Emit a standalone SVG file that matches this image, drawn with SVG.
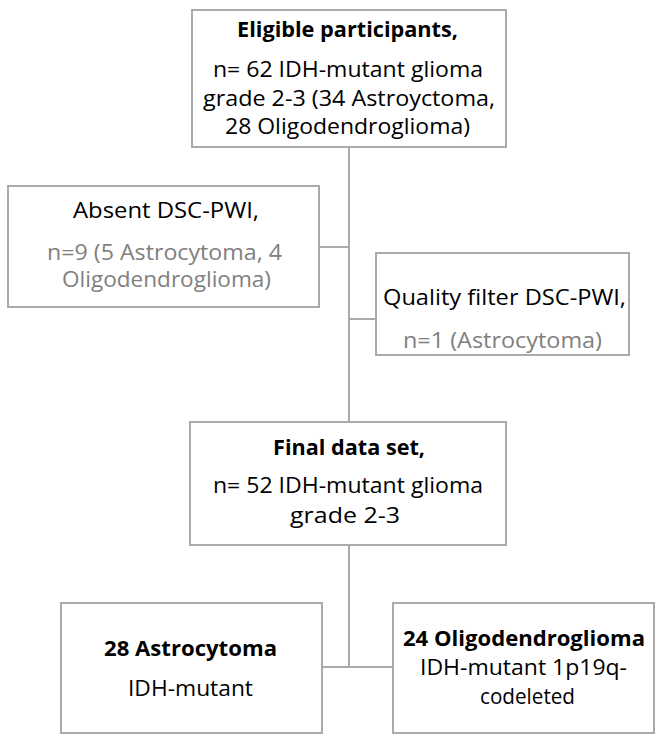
<svg xmlns="http://www.w3.org/2000/svg" width="664" height="741" viewBox="0 0 664 741">
<style>
.box{fill:#fff;stroke:#aaaaaa;stroke-width:2}
.ln{fill:none;stroke:#aaaaaa;stroke-width:2}
text{font-family:"Open Sans","Liberation Sans",sans-serif;font-size:21px;text-anchor:middle;fill:#000}
.b{font-weight:bold}
.g{fill:#808080}
</style>
<rect width="664" height="741" fill="#fff"/>
<g id="connectors">
<path class="ln" d="M349 147V422M319 247H349M349 319H376M349 545V667M322 667H393"/>
</g>
<g id="eligible">
<rect class="box" x="192" y="10" width="314" height="137"/>
<text x="347.5" y="37" class="b" textLength="221" lengthAdjust="spacingAndGlyphs">Eligible participants,</text>
<text x="348" y="77" textLength="270" lengthAdjust="spacingAndGlyphs">n= 62 IDH-mutant glioma</text>
<text x="349" y="106" textLength="292" lengthAdjust="spacingAndGlyphs">grade 2-3 (34 Astroyctoma,</text>
<text x="347.5" y="134" textLength="245" lengthAdjust="spacingAndGlyphs">28 Oligodendroglioma)</text>
</g>
<g id="absent">
<rect class="box" x="8" y="186" width="311" height="121"/>
<text x="166" y="218" textLength="186" lengthAdjust="spacingAndGlyphs">Absent DSC-PWI,</text>
<text x="164.5" y="260" class="g" textLength="235" lengthAdjust="spacingAndGlyphs">n=9 (5 Astrocytoma, 4</text>
<text x="166.5" y="287" class="g" textLength="209" lengthAdjust="spacingAndGlyphs">Oligodendroglioma)</text>
</g>
<g id="quality">
<rect class="box" x="376" y="253" width="253" height="102"/>
<text x="504.5" y="305" textLength="243" lengthAdjust="spacingAndGlyphs">Quality filter DSC-PWI,</text>
<text x="502.5" y="348" class="g" textLength="199" lengthAdjust="spacingAndGlyphs">n=1 (Astrocytoma)</text>
</g>
<g id="final">
<rect class="box" x="190" y="422" width="316" height="123"/>
<text x="349" y="455" class="b" textLength="152" lengthAdjust="spacingAndGlyphs">Final data set,</text>
<text x="348" y="493" textLength="270" lengthAdjust="spacingAndGlyphs">n= 52 IDH-mutant glioma</text>
<text x="345" y="523" textLength="110" lengthAdjust="spacingAndGlyphs">grade 2-3</text>
</g>
<g id="astro">
<rect class="box" x="61" y="603" width="261" height="130"/>
<text x="190.5" y="656" class="b" textLength="173" lengthAdjust="spacingAndGlyphs">28 Astrocytoma</text>
<text x="190.5" y="696" textLength="125" lengthAdjust="spacingAndGlyphs">IDH-mutant</text>
</g>
<g id="oligo">
<rect class="box" x="393" y="603" width="261" height="130"/>
<text x="524" y="646" class="b" textLength="242" lengthAdjust="spacingAndGlyphs">24 Oligodendroglioma</text>
<text x="523.5" y="675" textLength="207" lengthAdjust="spacingAndGlyphs">IDH-mutant 1p19q-</text>
<text x="527.5" y="704" textLength="95" lengthAdjust="spacingAndGlyphs">codeleted</text>
</g>
</svg>
